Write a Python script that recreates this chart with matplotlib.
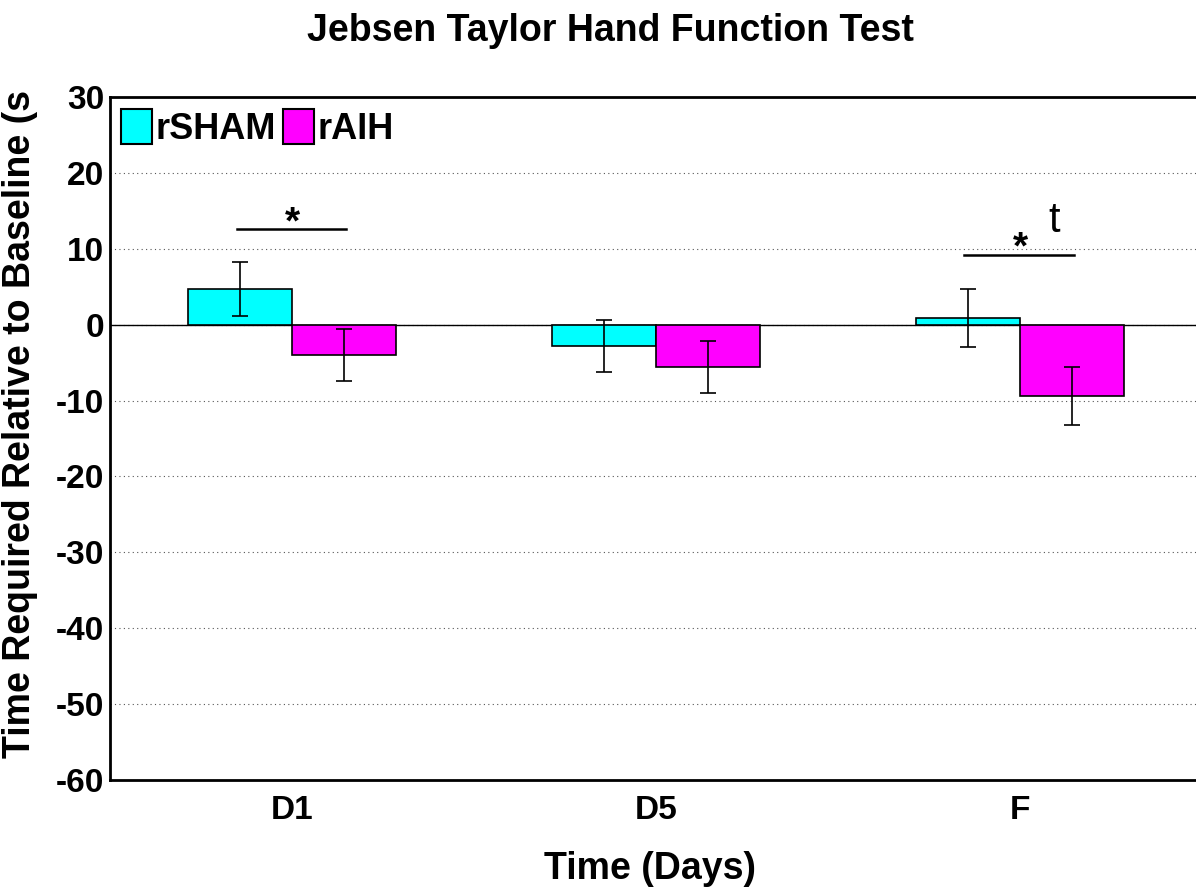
import numpy as np
import matplotlib
matplotlib.use("Agg")
import matplotlib.pyplot as plt

plt.rcParams['font.family'] = ['Liberation Sans', 'DejaVu Sans']
plt.rcParams['font.weight'] = 'bold'
plt.rcParams['axes.unicode_minus'] = False

days = ['D1', 'D5', 'F']
sham = [4.7, -2.8, 0.9]
sham_err = [3.5, 3.4, 3.8]
aih = [-4.0, -5.6, -9.4]
aih_err = [3.4, 3.4, 3.8]

fig = plt.figure(figsize=(11.96, 8.88), dpi=100)
ax = fig.add_axes([110/1196, 1-780/888, 1092/1196, 683/888])

x = np.arange(1, len(days)+1)
w = 0.286
ax.bar(x - w/2, sham, w, color='#00ffff', edgecolor='black', linewidth=1.2, label='rSHAM', zorder=3)
ax.bar(x + w/2, aih, w, color='#ff00ff', edgecolor='black', linewidth=1.2, label='rAIH', zorder=3)
ax.errorbar(x - w/2, sham, yerr=sham_err, fmt='none', ecolor='black', elinewidth=1.2, capsize=6, capthick=1.2, zorder=4)
ax.errorbar(x + w/2, aih, yerr=aih_err, fmt='none', ecolor='black', elinewidth=1.2, capsize=6, capthick=1.2, zorder=4)
ax.axhline(0, color='black', linewidth=1.0, zorder=2)

# significance marks
ax.plot([x[0] - 0.151, x[0] + 0.148], [12.6, 12.6], color='black', linewidth=1.8, zorder=5)
ax.text(x[0], 10.9, '*', ha='center', va='bottom', fontsize=28, fontweight='bold')
ax.plot([x[2] - 0.154, x[2] + 0.148], [9.2, 9.2], color='black', linewidth=1.8, zorder=5)
ax.text(x[2], 7.7, '*', ha='center', va='bottom', fontsize=28, fontweight='bold')
ax.text(x[2] + 0.095, 11.0, 't', ha='center', va='bottom', fontsize=30, fontweight='normal')

ax.set_xlim(0.5, 3.5)
ax.set_ylim(-60, 30)
ax.set_yticks(np.arange(-60, 31, 10))
ax.set_xticks(x)
ax.set_xticklabels(days)
ax.yaxis.grid(True, linestyle=(0, (1, 3)), color='#555555', linewidth=0.8, zorder=0)
ax.tick_params(axis='both', labelsize=24, length=0)
ax.tick_params(axis='y', pad=4)
ax.tick_params(axis='x', pad=11)
for s in ax.spines.values():
    s.set_linewidth(2)

ax.set_xlabel('Time (Days)', fontsize=27, fontweight='bold', va='center')
ax.xaxis.set_label_coords((650-110)/1092, (780-869)/683)
ax.set_ylabel('Time Required Relative to Baseline (s', fontsize=27, fontweight='bold')
ax.yaxis.set_label_coords((38-110)/1092, (780-424)/683)
fig.suptitle('Jebsen Taylor Hand Function Test', fontsize=27, fontweight='bold', x=0.51, y=0.985)

leg = ax.legend(loc='upper left', bbox_to_anchor=(0.0, 0.998), ncol=2, fontsize=26, frameon=False,
                handlelength=0.86, handleheight=1.12,
                handletextpad=0.1, columnspacing=0.2, borderpad=0.3, borderaxespad=0)
for p in leg.get_patches():
    p.set_linewidth(1.5)

fig.savefig('out.png', dpi=100)
